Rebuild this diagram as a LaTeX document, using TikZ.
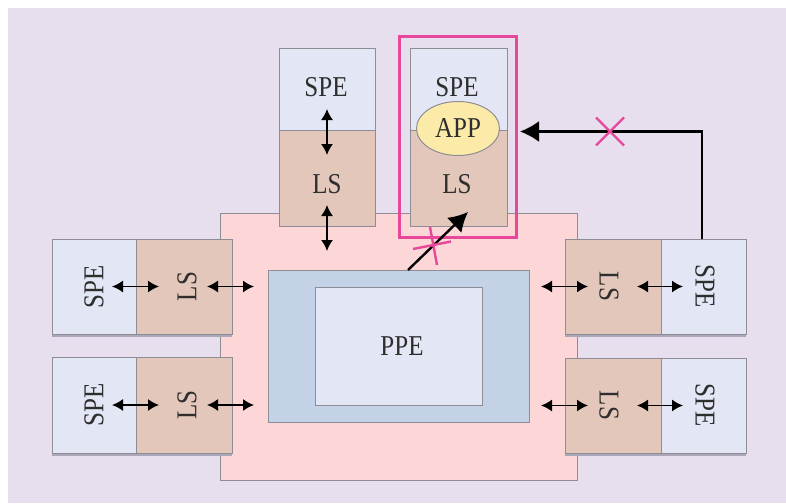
\documentclass[tikz,border=0pt]{standalone}
\usepackage{fontspec}
\setmainfont{Liberation Serif}
\usetikzlibrary{arrows.meta,shapes.geometric,shadows}
\definecolor{bgc}{HTML}{E7DFEE}
\definecolor{pinkc}{HTML}{FDD6D8}
\definecolor{spec}{HTML}{E3E6F4}
\definecolor{lsc}{HTML}{E3C7BA}
\definecolor{ppeo}{HTML}{C4D2E7}
\definecolor{appc}{HTML}{FCEBA8}
\definecolor{magc}{HTML}{E8489A}
\definecolor{edgec}{HTML}{8E8C94}
\definecolor{txtc}{HTML}{2E2E2E}
\definecolor{shadc}{HTML}{A9A7B8}
\newcommand{\tallt}[1]{\scalebox{1}[1.15]{#1}}
\begin{document}
\begin{tikzpicture}[x=1pt,y=-1pt,
  box/.style={draw=edgec, line width=1pt, inner sep=0pt, outer sep=0pt, anchor=north west},
  sidebox/.style={box, drop shadow={shadow xshift=0pt, shadow yshift=-2.5pt, fill=shadc, opacity=1}},
  lbl/.style={font=\fontsize{25}{25}\selectfont, text=txtc, inner sep=0pt},
  dbl/.style={{Latex[length=11pt,width=12pt]}-{Latex[length=11pt,width=12pt]}, line width=1.6pt, black},
  bigarrow/.style={-{Latex[length=19pt,width=21pt]}, line width=2.4pt, black},
  cross/.style={magc, line width=2.4pt}
]
\useasboundingbox (0,0) rectangle (786,503);
\fill[white] (0,0) rectangle (786,503);
\fill[bgc] (8,8) rectangle (786,503);

% main pink box
\node[box, fill=pinkc, minimum width=357pt, minimum height=267pt] (main) at (220,213) {};

% PPE
\node[box, fill=ppeo, minimum width=261pt, minimum height=152pt] (ppeout) at (268,270) {};
\node[box, fill=spec, minimum width=167pt, minimum height=118pt] (ppein) at (315,287) {};
\node[lbl] (ppetxt) at (402,346) {\tallt{PPE}};

% top columns
\node[box, fill=spec, minimum width=96pt, minimum height=81pt] (tspeA) at (279,49) {};
\node[box, fill=lsc, minimum width=96pt, minimum height=96pt] (tlsA) at (279,130) {};
\node[box, fill=spec, minimum width=97pt, minimum height=81pt] (tspeB) at (410,49) {};
\node[box, fill=lsc, minimum width=97pt, minimum height=96pt] (tlsB) at (410,130) {};
\node[lbl] (tspeAt) at (326,87) {\tallt{SPE}};
\node[lbl] (tlsAt) at (327,184) {\tallt{LS}};
\node[lbl] (tspeBt) at (457,87) {\tallt{SPE}};
\node[lbl] (tlsBt) at (457,184) {\tallt{LS}};
\node[ellipse, draw=edgec, line width=1pt, fill=appc, minimum width=83pt, minimum height=54pt, inner sep=0pt] (app) at (458,128.5) {};
\node[lbl] (appt) at (458,128.5) {\tallt{APP}};

% magenta frame
\node[box, draw=magc, line width=3pt, minimum width=117pt, minimum height=200pt] (frame) at (399,37) {};

% left side units
\node[sidebox, fill=spec, minimum width=84pt, minimum height=95pt] (lspeA) at (52,239) {};
\node[sidebox, fill=lsc, minimum width=96pt, minimum height=95pt] (llsA) at (136,239) {};
\node[sidebox, fill=spec, minimum width=84pt, minimum height=96pt] (lspeB) at (52,357) {};
\node[sidebox, fill=lsc, minimum width=96pt, minimum height=96pt] (llsB) at (136,357) {};
\node[lbl, rotate=90] (lspeAt) at (94,286.5) {\tallt{SPE}};
\node[lbl, rotate=90] (llsAt) at (187,286.5) {\tallt{LS}};
\node[lbl, rotate=90] (lspeBt) at (94,405) {\tallt{SPE}};
\node[lbl, rotate=90] (llsBt) at (187,405) {\tallt{LS}};

% right side units
\node[sidebox, fill=lsc, minimum width=96pt, minimum height=95pt] (rlsA) at (565,239) {};
\node[sidebox, fill=spec, minimum width=85pt, minimum height=95pt] (rspeA) at (661,239) {};
\node[sidebox, fill=lsc, minimum width=96pt, minimum height=95pt] (rlsB) at (565,358) {};
\node[sidebox, fill=spec, minimum width=85pt, minimum height=95pt] (rspeB) at (661,358) {};
\node[lbl, rotate=-90] (rlsAt) at (609,286.5) {\tallt{LS}};
\node[lbl, rotate=-90] (rspeAt) at (705,286.5) {\tallt{SPE}};
\node[lbl, rotate=-90] (rlsBt) at (609,405.5) {\tallt{LS}};
\node[lbl, rotate=-90] (rspeBt) at (705,405.5) {\tallt{SPE}};

% double arrows: left
\draw[dbl] ([xshift=-24pt]lspeA.east) -- ([xshift=23pt]lspeA.east);
\draw[dbl] ([xshift=-25pt]llsA.east) -- ([xshift=22pt]llsA.east);
\draw[dbl] ([xshift=-24pt]lspeB.east) -- ([xshift=23pt]lspeB.east);
\draw[dbl] ([xshift=-25pt]llsB.east) -- ([xshift=22pt]llsB.east);
% double arrows: right
\draw[dbl] ([xshift=-24pt]rlsA.west) -- ([xshift=23pt]rlsA.west);
\draw[dbl] ([xshift=-24pt]rspeA.west) -- ([xshift=22pt]rspeA.west);
\draw[dbl] ([xshift=-24pt]rlsB.west) -- ([xshift=23pt]rlsB.west);
\draw[dbl] ([xshift=-24pt]rspeB.west) -- ([xshift=22pt]rspeB.west);
% double arrows: top column
\draw[dbl] ([yshift=21pt]tlsA.north) -- ([yshift=-25pt]tlsA.north);
\draw[dbl] ([yshift=21pt]tlsA.south) -- ([yshift=-25pt]tlsA.south);

% diagonal arrow PPE -> LS
\coordinate (dstart) at (408,270);
\coordinate (dend) at (468,212);
\draw[bigarrow] (dstart) -- (dend);
\coordinate (xa) at (433,245);
\draw[cross] ([shift={(-20,4)}]xa) -- ([shift={(18,-3.5)}]xa);
\draw[cross] ([shift={(-3,-18)}]xa) -- ([shift={(4,20)}]xa);

% right path SPE -> frame
\coordinate (rtip) at (520,131.5);
\draw[bigarrow, line width=2.2pt] (rspeA.north -| 702,0) |- (rtip);
\coordinate (xb) at (610,131.5);
\draw[cross] ([shift={(-14,-14)}]xb) -- ([shift={(14,14)}]xb);
\draw[cross] ([shift={(-14,14)}]xb) -- ([shift={(14,-14)}]xb);
\end{tikzpicture}
\end{document}
